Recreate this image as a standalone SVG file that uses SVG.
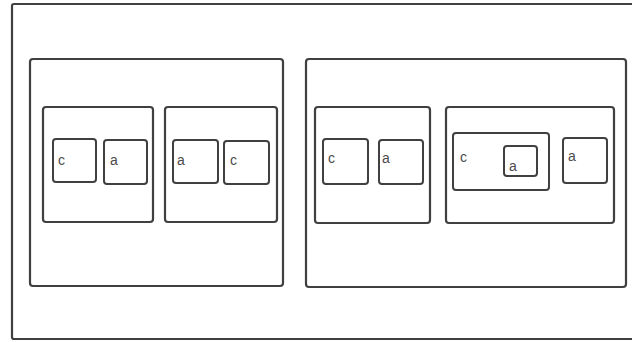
<svg xmlns="http://www.w3.org/2000/svg" width="632" height="342" viewBox="0 0 632 342">
<style>
.box{fill:#fff;stroke:#404040;stroke-width:2.2;}
.sm{fill:#fff;stroke:#404040;stroke-width:2;}
.t{font-family:"Liberation Sans",Arial,sans-serif;font-size:14px;fill:#4a4a4a;}
</style>
<rect x="0" y="0" width="632" height="342" fill="#fff"/>
<g id="root"><rect class="box" x="12" y="4" width="630" height="335" rx="2"/></g>
<g id="left"><rect class="box" x="30" y="59" width="253" height="227" rx="3"/></g>
<g id="right"><rect class="box" x="306" y="59" width="320" height="228" rx="3"/></g>
<g id="l1"><rect class="box" x="43" y="107" width="110" height="115" rx="3"/></g>
<g id="l2"><rect class="box" x="165" y="107" width="112" height="115" rx="3"/></g>
<g id="r1"><rect class="box" x="315" y="107" width="115" height="116" rx="3"/></g>
<g id="r2"><rect class="box" x="446" y="107" width="168" height="116" rx="3"/></g>
<g id="l1c"><rect class="sm" x="53" y="139" width="43" height="43" rx="3"/><text class="t" x="58" y="165">c</text></g>
<g id="l1a"><rect class="sm" x="104" y="140" width="43" height="44" rx="3"/><text class="t" x="110" y="165">a</text></g>
<g id="l2a"><rect class="sm" x="173" y="140" width="45" height="43" rx="3"/><text class="t" x="177" y="165">a</text></g>
<g id="l2c"><rect class="sm" x="224" y="141" width="45" height="43" rx="3"/><text class="t" x="230" y="165">c</text></g>
<g id="r1c"><rect class="sm" x="323" y="139" width="45" height="45" rx="3"/><text class="t" x="328" y="163">c</text></g>
<g id="r1a"><rect class="sm" x="379" y="140" width="44" height="44" rx="3"/><text class="t" x="382" y="163">a</text></g>
<g id="r2c"><rect class="sm" x="453" y="133" width="96" height="57" rx="3"/><text class="t" x="460" y="162">c</text></g>
<g id="r2ca"><rect class="sm" x="504" y="146" width="33" height="30" rx="3"/><text class="t" x="509" y="171">a</text></g>
<g id="r2a"><rect class="sm" x="563" y="138" width="44" height="45" rx="3"/><text class="t" x="568" y="161">a</text></g>
<g id="connectors"></g>
</svg>
